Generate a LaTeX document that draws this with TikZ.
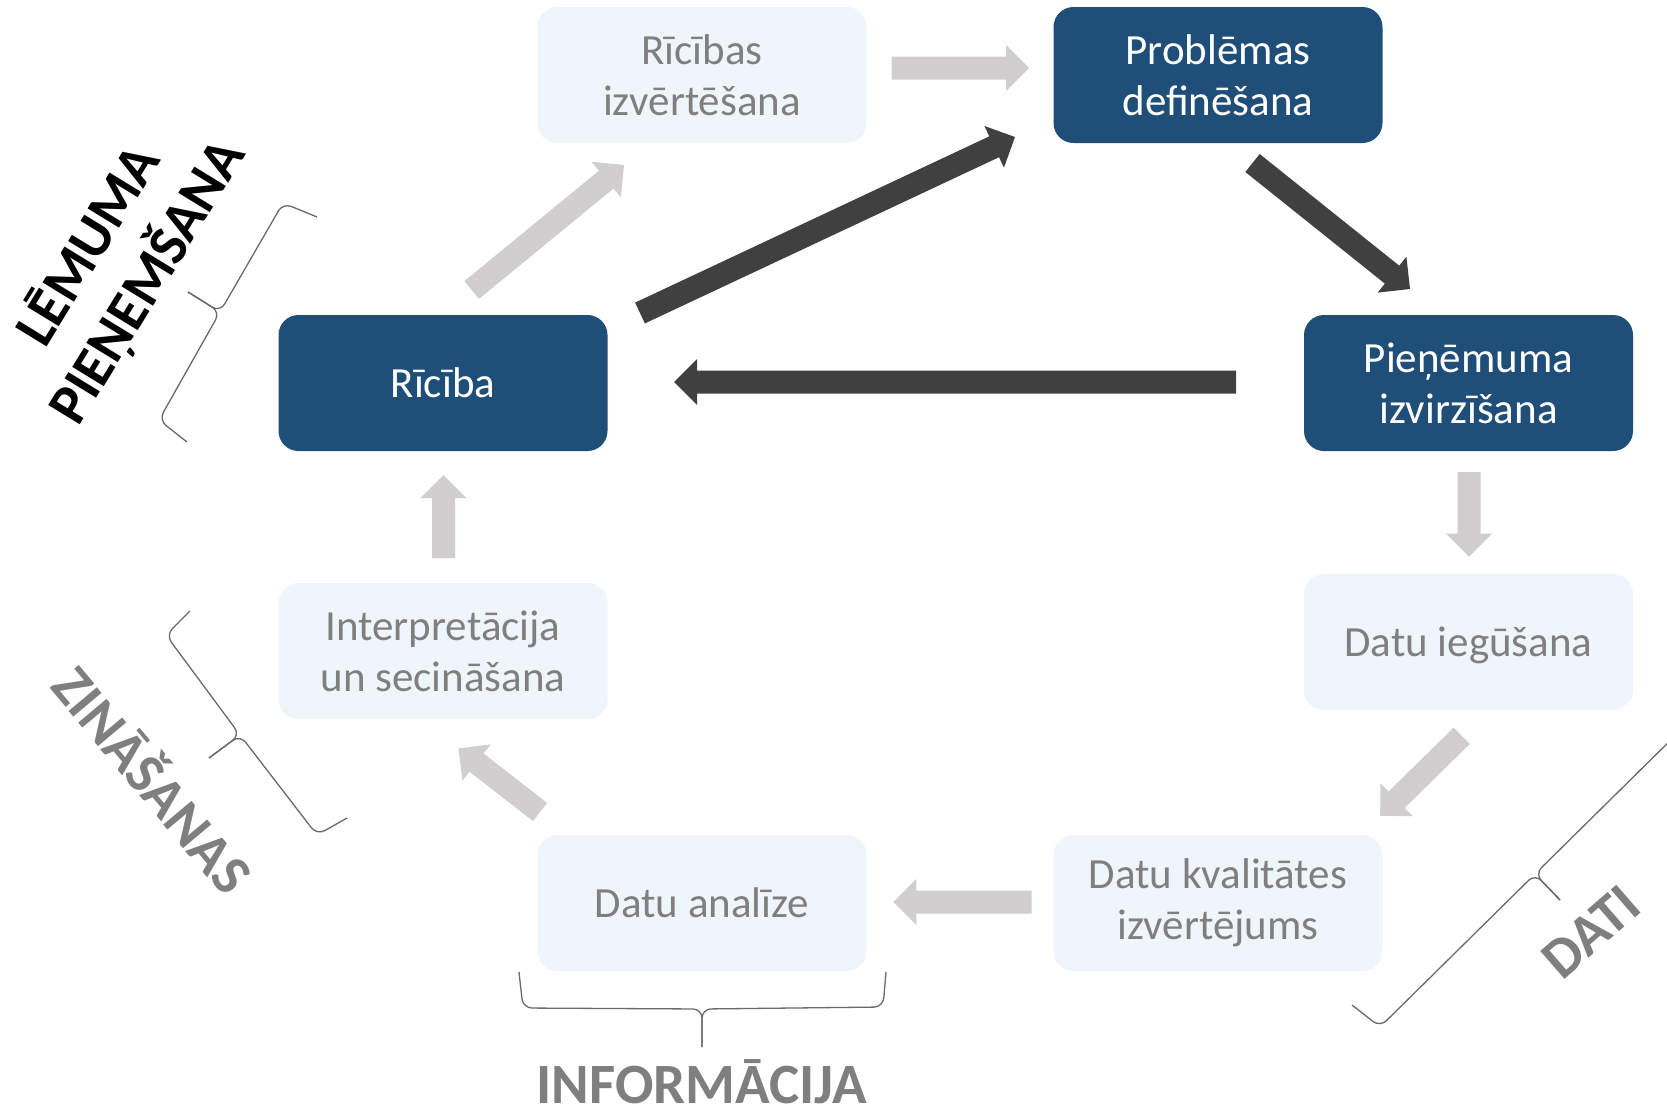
\documentclass[tikz,border=0pt]{standalone}
\usepackage{fontspec}
\setmainfont{Carlito}
\usetikzlibrary{calc}
\definecolor{darkblue}{HTML}{1F4E79}
\definecolor{lightboxc}{HTML}{EFF5FA}
\definecolor{txtgray}{HTML}{7F7F7F}
\definecolor{darkarr}{HTML}{404040}
\definecolor{lightarr}{HTML}{D0CECE}
\definecolor{bracegray}{HTML}{6A6A6A}
\newcommand\diaboxfont{\fontsize{43}{51}\selectfont}
\newcommand\dialabelfont{\fontsize{57}{69}\selectfont\bfseries}
\newcommand\blockarrow[3]{%
  \path (#1); \pgfgetlastxy{\baAx}{\baAy}%
  \path (#2); \pgfgetlastxy{\baBx}{\baBy}%
  \pgfmathsetmacro\baAng{atan2(\baBy-\baAy,\baBx-\baAx)}%
  \pgfmathsetmacro\baLen{veclen(\baBx-\baAx,\baBy-\baAy)}%
  \pgfmathsetmacro\baNeck{\baLen-23}%
  \fill[#3, shift={(\baAx,\baAy)}, rotate=\baAng]
    (0pt,-11.5pt) -- (\baNeck pt,-11.5pt) -- (\baNeck pt,-23pt) -- (\baLen pt,0pt)
    -- (\baNeck pt,23pt) -- (\baNeck pt,11.5pt) -- (0pt,11.5pt) -- cycle;%
}
\tikzset{
  basebox/.style={rectangle, rounded corners=20pt, minimum width=329pt, minimum height=136pt,
    align=center, inner sep=0pt, font=\diaboxfont},
  darkbox/.style={basebox, fill=darkblue, text=white},
  lightbox/.style={basebox, fill=lightboxc, text=txtgray},
  biglabel/.style={font=\dialabelfont, text=txtgray, inner sep=0pt, align=center},
  bracestyle/.style={draw=bracegray, line width=1.3pt, rounded corners=9pt},
  darkfill/.style={fill=darkarr},
  lightfill/.style={fill=lightarr}
}
\begin{document}
\begin{tikzpicture}[x=1pt,y=-1pt]
\useasboundingbox (0,0) rectangle (1667,1112);
\clip (0,0) rectangle (1667,1112);
\fill[white] (0,0) rectangle (1667,1112);

% boxes
\node[lightbox] (rizv) at (702,75) {Rīcības\\izvērtēšana};
\node[darkbox] (prob) at (1218,75) {Problēmas\\definēšana};
\node[darkbox] (ric) at (443,383) {Rīcība};
\node[darkbox] (pien) at (1468.5,383) {Pieņēmuma\\izvirzīšana};
\node[lightbox] (interp) at (443,651) {Interpretācija\\un secināšana};
\node[lightbox, text depth=0pt] (iegu) at (1468.5,642) {Datu iegūšana};
\node[lightbox] (anal) at (702,903) {Datu analīze};
\node[lightbox] (kval) at (1218,903) {Datu kvalitātes\\izvērtējums};

% arrow end points
\coordinate (d1s) at (640,313);   \coordinate (d1e) at (1015,137);
\coordinate (d2s) at (1252.5,163); \coordinate (d2e) at (1410,289);
\coordinate (d3s) at (1236,382);  \coordinate (d3e) at (674,382);
\coordinate (l1s) at (891.7,68);  \coordinate (l1e) at (1029,68);
\coordinate (l2s) at (471.7,290); \coordinate (l2e) at (624,165);
\coordinate (l3s) at (1469,472);  \coordinate (l3e) at (1469,556.7);
\coordinate (l4s) at (1461.7,735.8); \coordinate (l4e) at (1380,816);
\coordinate (l5s) at (1031.7,902); \coordinate (l5e) at (893.3,902);
\coordinate (l6s) at (540,812);   \coordinate (l6e) at (458.3,748.3);
\coordinate (l7s) at (443.5,558); \coordinate (l7e) at (443.5,475);

\blockarrow{d1s}{d1e}{darkfill}
\blockarrow{d2s}{d2e}{darkfill}
\blockarrow{d3s}{d3e}{darkfill}
\blockarrow{l1s}{l1e}{lightfill}
\blockarrow{l2s}{l2e}{lightfill}
\blockarrow{l3s}{l3e}{lightfill}
\blockarrow{l4s}{l4e}{lightfill}
\blockarrow{l5s}{l5e}{lightfill}
\blockarrow{l6s}{l6e}{lightfill}
\blockarrow{l7s}{l7e}{lightfill}

% braces
\draw[bracestyle] (317,217) -- (283,203) -- (220,312) -- (188,292);
\draw[bracestyle] (188,292) -- (220,312) -- (159,420) -- (187,442);
\draw[bracestyle] (190,611) -- (166,635) -- (240,735) -- (209,758);
\draw[bracestyle] (209,758) -- (240,735) -- (317,835) -- (347,818);
\draw[bracestyle] (1669,692) -- (1690,721) -- (1535,874) -- (1560,900);
\draw[bracestyle] (1560,900) -- (1535,874) -- (1380,1027) -- (1352,1005);
\draw[bracestyle] (519,972) -- (523,1008) -- (702,1009) -- (702,1047);
\draw[bracestyle] (702,1047) -- (702,1009) -- (883,1007) -- (886,972);

% labels
\node[biglabel, anchor=base] (linfo) at (701.7,1103) {INFORMĀCIJA};
\node[biglabel, rotate=41] (ldati) at (1591.5,932) {DATI};
\node[biglabel, rotate=-50] (lzin) at (155,778) {ZINĀŠANAS};
\node[biglabel, text=black, rotate=58.5] (llem) at (118.7,264) {LĒMUMA\\PIEŅEMŠANA};
\end{tikzpicture}
\end{document}
